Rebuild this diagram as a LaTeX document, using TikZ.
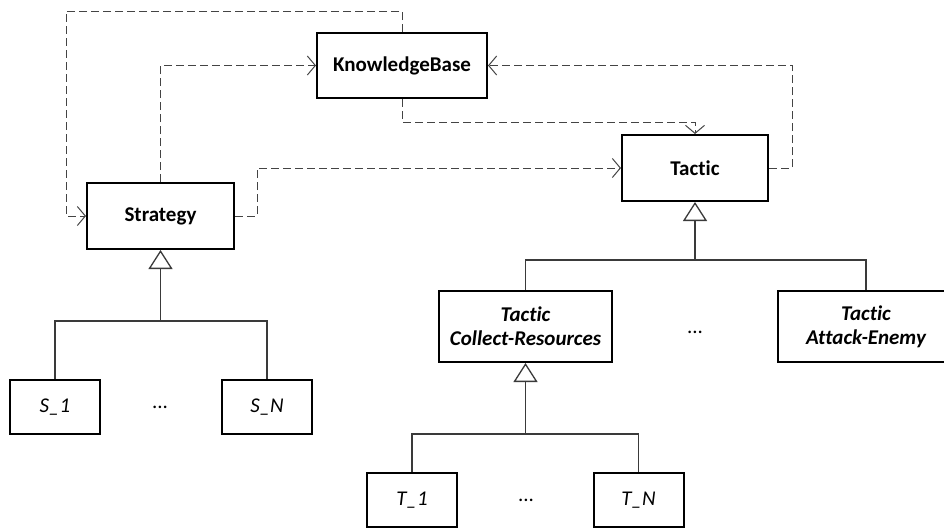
\documentclass[tikz,border=0pt]{standalone}
\usepackage{fontspec}
\setmainfont{Carlito}[Ligatures={NoCommon}]
\usetikzlibrary{arrows.meta}

\definecolor{depgray}{HTML}{444444}
\definecolor{linegray}{HTML}{3A3A3A}

\tikzset{
  cls/.style={draw=black, line width=2pt, fill=white, inner sep=0pt,
    align=center, font=\fontsize{21}{24}\selectfont},
  abs/.style={cls, font=\fontsize{21}{24}\selectfont\bfseries\itshape},
  concrete/.style={cls, font=\fontsize{21}{24}\selectfont\bfseries},
  leaf/.style={cls, font=\fontsize{21}{24}\selectfont\itshape,
    minimum width=90pt, minimum height=54pt},
  dots/.style={inner sep=0pt, font=\fontsize{21}{24}\selectfont},
  dep/.style={draw=depgray, line width=1pt, dash pattern=on 8pt off 4pt,
    -{Straight Barb[length=8pt, width=19pt, line width=1pt]}},
  gen/.style={draw=linegray, line width=1.1pt,
    -{Triangle[open, length=19pt, width=24pt, line width=1.3pt, fill=white]}},
  branch/.style={draw=linegray, line width=1.1pt}
}

\begin{document}
\begin{tikzpicture}[x=1pt, y=-1pt]
  \useasboundingbox (0,0) rectangle (944,528);
  \clip (0,0) rectangle (944,528);

  % classes
  \node[concrete, minimum width=170pt, minimum height=65pt] (kb) at (402,65.5) {KnowledgeBase};
  \node[concrete, minimum width=147pt, minimum height=66pt] (strategy) at (160.5,216) {Strategy};
  \node[concrete, minimum width=146pt, minimum height=66pt] (tactic) at (695,168) {Tactic};
  \node[abs, minimum width=173pt, minimum height=71pt] (collect) at (525.5,326.5) {Tactic\\Collect-Resources};
  \node[abs, minimum width=176pt, minimum height=71pt] (attack) at (866,326.5) {Tactic\\Attack-Enemy};

  \node[leaf] (s1) at (55,407) {S\_1};
  \node[leaf] (sn) at (267,407) {S\_N};
  \node[leaf] (t1) at (412,500) {T\_1};
  \node[leaf] (tn) at (638.5,500) {T\_N};

  \node[dots] (sdots) at (160,407) {...};
  \node[dots] (tacdots) at (695,332) {...};
  \node[dots] (tdots) at (526,500) {...};

  % junction points of the inheritance trees
  \coordinate (sbar) at (160.5,321);
  \coordinate (tbar) at (695,260);
  \coordinate (cbar) at (525.5,434);
  \coordinate (loop) at (66,11);

  % inheritance: Strategy
  \draw[branch] (s1.north) |- (sbar);
  \draw[branch] (sn.north) |- (sbar);
  \draw[gen] (sbar) -- (strategy.south);

  % inheritance: Tactic
  \draw[branch] (collect.north) |- (tbar);
  \draw[branch] (attack.north) |- (tbar);
  \draw[gen] (tbar) -- (tactic.south);

  % inheritance: Collect-Resources
  \draw[branch] (t1.north) |- (cbar);
  \draw[branch] (tn.north) |- (cbar);
  \draw[gen] (cbar) -- (collect.south);

  % dependencies
  \draw[dep] (kb.north) |- (loop) |- (strategy.west);
  \draw[dep] (strategy.north) |- (kb.west);
  \draw[dep] (kb.south) -- ++(0,23) -| (tactic.north);
  \draw[dep] (strategy.east) -- ++(22,0) |- (tactic.west);
  \draw[dep] (tactic.east) -- ++(23,0) |- (kb.east);
\end{tikzpicture}
\end{document}
